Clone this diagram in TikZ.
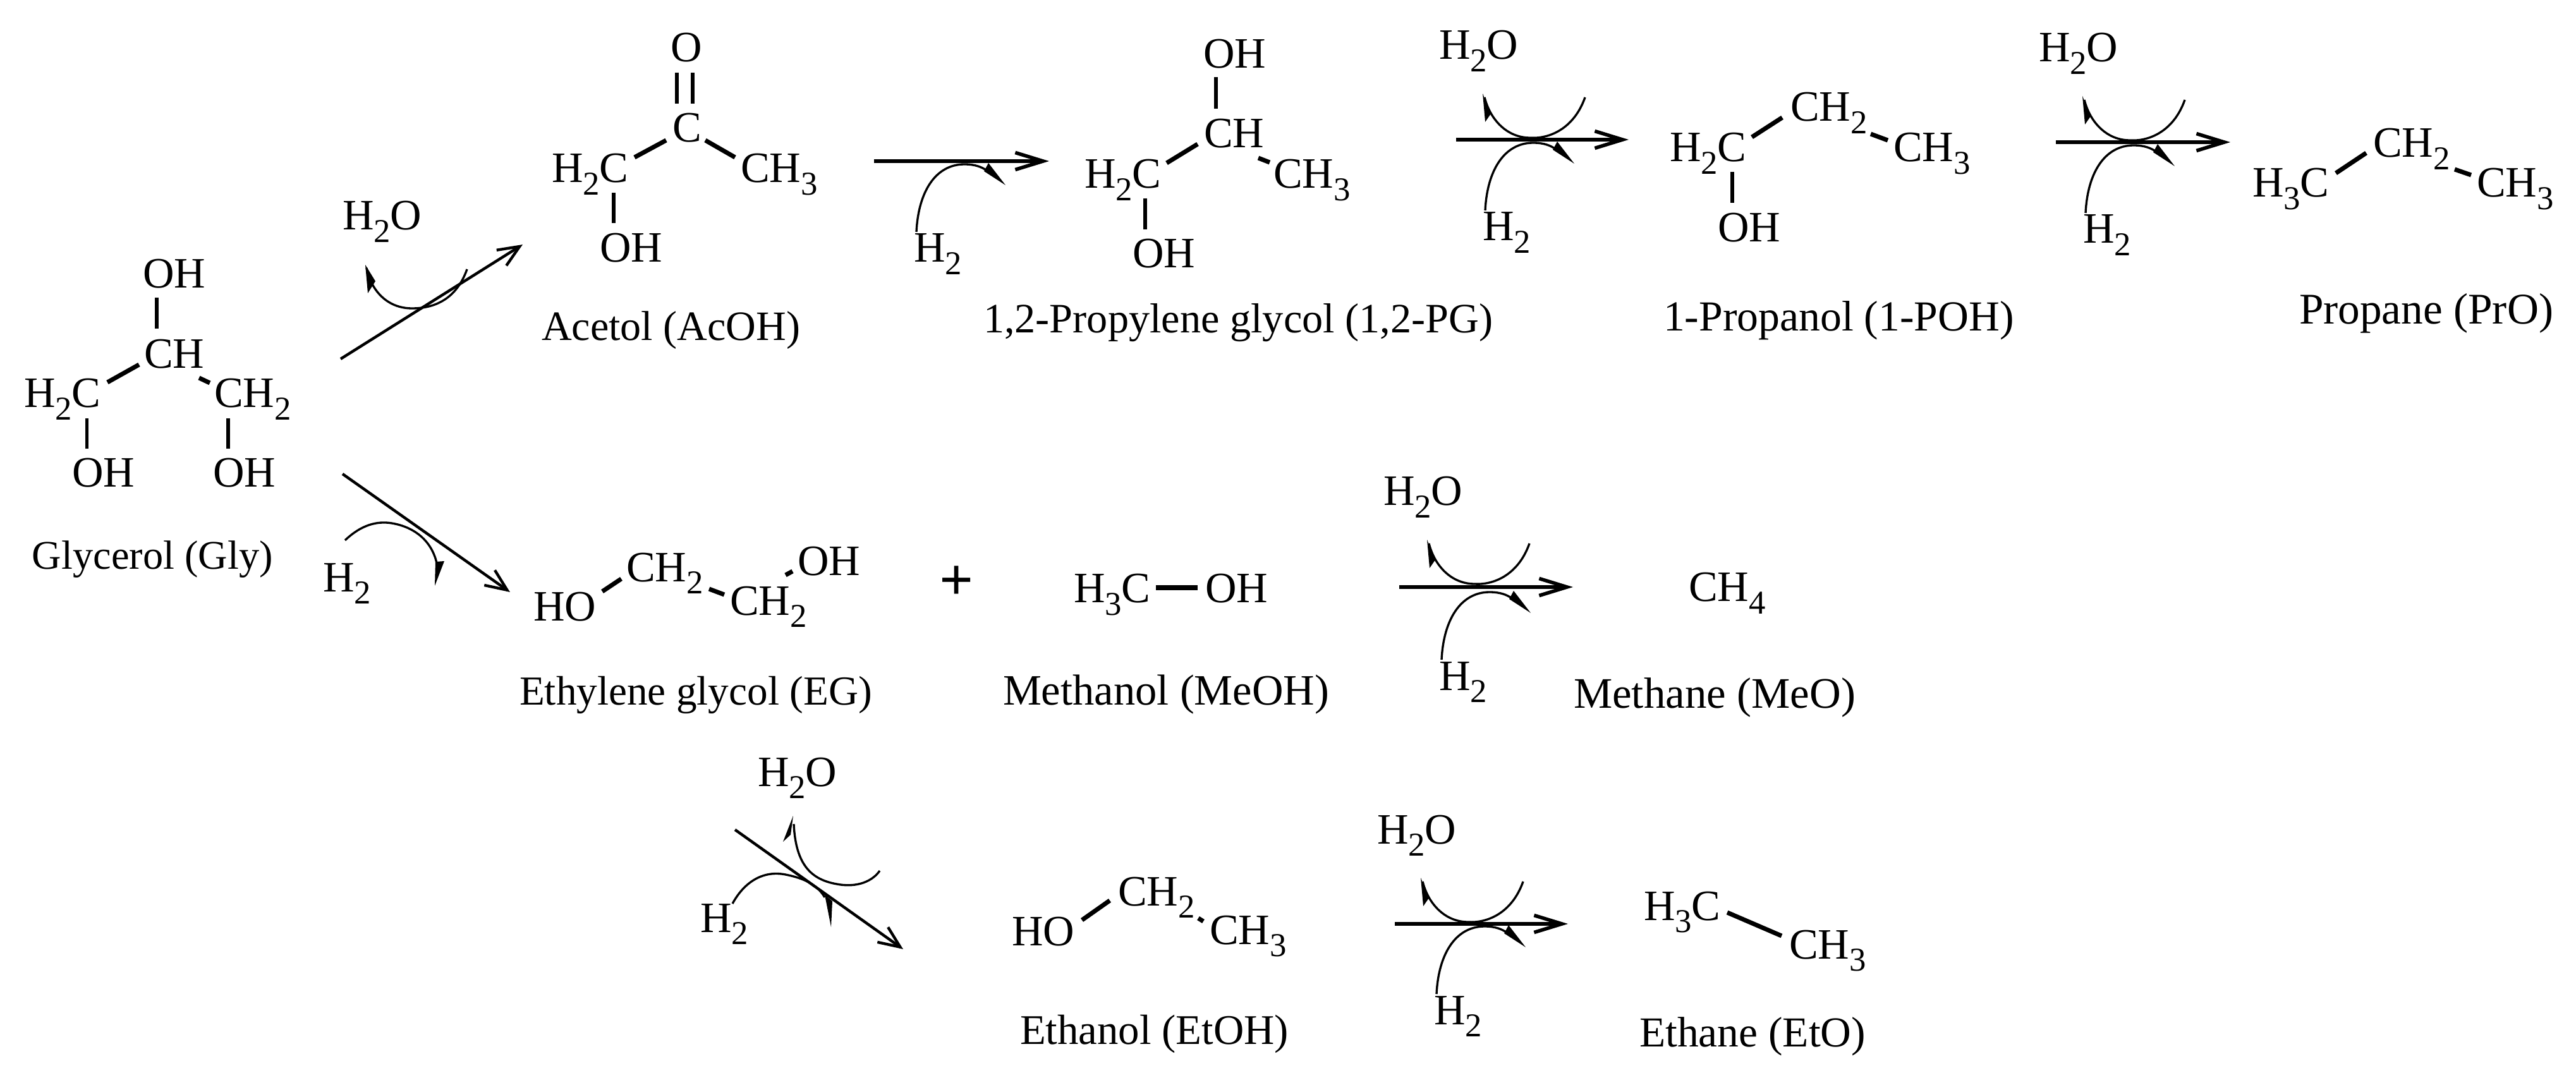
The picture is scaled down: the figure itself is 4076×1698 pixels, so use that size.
\documentclass[tikz,border=0pt]{standalone}
\usepackage{fontspec}
\setmainfont{Liberation Serif}
\usetikzlibrary{arrows.meta}
\newcommand\dn[1]{\raisebox{-5.5pt}{\fontsize{15}{15}\selectfont #1}}
\tikzset{
  chem/.style={inner sep=0pt,outer sep=0pt,anchor=base west,font=\fontsize{19.5}{21}\selectfont},
  lab/.style={inner sep=0pt,outer sep=0pt,anchor=base west,font=\fontsize{#1}{21}\selectfont},
  bond/.style={line width=1.5pt},
  shortbond/.style={line width=2pt},
  rxn/.style={line width=1.6pt,-{Straight Barb[length=4.4mm,width=2.7mm,line width=1.6pt]}},
  rxnd/.style={line width=1.25pt,-{Straight Barb[length=3.4mm,width=2.9mm,line width=1.25pt]}},
  curve/.style={line width=.95pt},
  wedge/.style={fill=black,draw=none}
}
% arc leaving towards a water label; coordinates relative to the label
\newcommand\upperarc[1]{\begin{scope}[shift={(#1.base west)}]
  \draw[curve] (231,60) .. controls (213,111) and (173,126) .. (144,124) .. controls (108,124) and (81,96) .. (72,60);
  \fill[wedge] (69,54) -- (73,99) -- (82,86) -- cycle;
\end{scope}}
% arc coming from a hydrogen label; coordinates relative to the label
\newcommand\lowerarc[1]{\begin{scope}[shift={(#1.base west)}]
  \draw[curve] (4,-48) .. controls (7,-111) and (34,-155) .. (80,-155) .. controls (98,-155) and (108,-150) .. (114,-146);
  \fill[wedge] (118,-157) -- (145,-122) -- (111,-144) -- cycle;
\end{scope}}
\begin{document}
\begin{tikzpicture}[x=0.01cm,y=-0.01cm]
\useasboundingbox (0,0) rectangle (4076,1698);
% Glycerol
\node[chem] (gOH) at (226,456) {OH};
\node[chem] (gCH) at (228,583) {CH};
\node[chem] (gHC) at (38,645) {H\dn{2}C};
\node[chem] (gCH2) at (339,645) {CH\dn{2}};
\node[chem] (gOHa) at (114,771) {OH};
\node[chem] (gOHb) at (337,771) {OH};
\node[lab=18.3] (gLab) at (51,901) {Glycerol (Gly)};
\draw[bond] ([shift={(22,15)}]gOH.base west) -- ([shift={(20,-63)}]gCH.base west);
\draw[shortbond] ([shift={(132,-40)}]gHC.base west) -- ([shift={(-8,-6)}]gCH.base west);
\draw[shortbond] ([shift={(87,15)}]gCH.base west) -- ([shift={(-7,-39)}]gCH2.base west);
\draw[bond] ([shift={(99.5,17)}]gHC.base west) -- ([shift={(23.5,-61)}]gOHa.base west);
\draw[bond] ([shift={(22,17)}]gCH2.base west) -- ([shift={(24,-61)}]gOHb.base west);
% Acetol
\node[chem] (aO) at (1061,98) {O};
\node[chem] (aC) at (1064,225) {C};
\node[chem] (aHC) at (873,289) {H\dn{2}C};
\node[chem] (aCH3) at (1172,289) {CH\dn{3}};
\node[chem] (aOH) at (949,415) {OH};
\node[lab=18.8] (aLab) at (857,539) {Acetol (AcOH)};
\draw[bond] ([shift={(10,17)}]aO.base west) -- ([shift={(7,-61)}]aC.base west);
\draw[bond] ([shift={(35,17)}]aO.base west) -- ([shift={(32,-61)}]aC.base west);
\draw[shortbond] ([shift={(131,-40)}]aHC.base west) -- ([shift={(-10,-3)}]aC.base west);
\draw[shortbond] ([shift={(52,-3)}]aC.base west) -- ([shift={(-9,-40)}]aCH3.base west);
\draw[bond] ([shift={(98,16)}]aHC.base west) -- ([shift={(22,-62)}]aOH.base west);
% 1,2-Propylene glycol
\node[chem] (pOH) at (1904,108) {OH};
\node[chem] (pCH) at (1905,234) {CH};
\node[chem] (pHC) at (1716,298) {H\dn{2}C};
\node[chem] (pCH3) at (2015,298) {CH\dn{3}};
\node[chem] (pOHb) at (1792,424) {OH};
\node[lab=18.85] (pLab) at (1556,527) {1,2-Propylene glycol (1,2-PG)};
\draw[bond] ([shift={(20,14)}]pOH.base west) -- ([shift={(19,-62)}]pCH.base west);
\draw[shortbond] ([shift={(130,-40)}]pHC.base west) -- ([shift={(-10,-6)}]pCH.base west);
\draw[shortbond] ([shift={(86,16)}]pCH.base west) -- ([shift={(-6,-41)}]pCH3.base west);
\draw[bond] ([shift={(96,16)}]pHC.base west) -- ([shift={(20,-61)}]pOHb.base west);
% 1-Propanol
\node[chem] (oHC) at (2642,256) {H\dn{2}C};
\node[chem] (oCH2) at (2833,192) {CH\dn{2}};
\node[chem] (oCH3) at (2996,256) {CH\dn{3}};
\node[chem] (oOH) at (2718,383) {OH};
\node[lab=19.25] (oLab) at (2632,524) {1-Propanol (1-POH)};
\draw[shortbond] ([shift={(130,-39)}]oHC.base west) -- ([shift={(-13,-6)}]oCH2.base west);
\draw[shortbond] ([shift={(127,20)}]oCH2.base west) -- ([shift={(-9,-34)}]oCH3.base west);
\draw[bond] ([shift={(99,16)}]oHC.base west) -- ([shift={(23,-62)}]oOH.base west);
% Propane
\node[chem] (rHC) at (3564,312) {H\dn{3}C};
\node[chem] (rCH2) at (3755,249) {CH\dn{2}};
\node[chem] (rCH3) at (3919,312) {CH\dn{3}};
\node[lab=19.7] (rLab) at (3638,513) {Propane (PrO)};
\draw[shortbond] ([shift={(132,-38)}]rHC.base west) -- ([shift={(-11,-7)}]rCH2.base west);
\draw[shortbond] ([shift={(129,19)}]rCH2.base west) -- ([shift={(-9,-35)}]rCH3.base west);
% Ethylene glycol
\node[chem] (eHO) at (844,982) {HO};
\node[chem] (eCHa) at (991,920) {CH\dn{2}};
\node[chem] (eCHb) at (1155,973) {CH\dn{2}};
\node[chem] (eOH) at (1262,910) {OH};
\node[lab=18.55] (eLab) at (822,1115) {Ethylene glycol (EG)};
\draw[shortbond] ([shift={(109,-46)}]eHO.base west) -- ([shift={(-8,-4)}]eCHa.base west);
\draw[shortbond] ([shift={(131,12)}]eCHa.base west) -- ([shift={(-9,-32)}]eCHb.base west);
\draw[shortbond] ([shift={(88,-63)}]eCHb.base west) -- ([shift={(-8,-6)}]eOH.base west);
% plus, Methanol, Methane
\node[inner sep=0pt,font=\fontsize{27}{27}\selectfont\bfseries] (plus) at (1514,923) {+};
\node[chem] (mHC) at (1699,954) {H\dn{3}C};
\node[chem] (mOH) at (1907,954) {OH};
\node[lab=19.5] (mLab) at (1587,1115) {Methanol (MeOH)};
\draw[shortbond] ([shift={(130,-24)}]mHC.base west) -- ([shift={(-12,-24)}]mOH.base west);
\node[chem] (cCH) at (2672,952) {CH\dn{4}};
\node[lab=19.6] (cLab) at (2490,1120) {Methane (MeO)};
% Ethanol
\node[chem] (tHO) at (1601,1496) {HO};
\node[chem] (tCH2) at (1769,1433) {CH\dn{2}};
\node[chem] (tCH3) at (1914,1494) {CH\dn{3}};
\node[lab=19] (tLab) at (1614,1652) {Ethanol (EtOH)};
\draw[shortbond] ([shift={(111,-40)}]tHO.base west) -- ([shift={(-13,-8)}]tCH2.base west);
\draw[shortbond] ([shift={(127,20)}]tCH2.base west) -- ([shift={(-10,-36)}]tCH3.base west);
% Ethane
\node[chem] (uHC) at (2601,1456) {H\dn{3}C};
\node[chem] (uCH3) at (2831,1517) {CH\dn{3}};
\node[lab=19.2] (uLab) at (2594,1656) {Ethane (EtO)};
\draw[shortbond] ([shift={(132,-12)}]uHC.base west) -- ([shift={(-12,-36)}]uCH3.base west);
% Water and hydrogen labels
\node[chem] (w1) at (542,364) {H\dn{2}O};
\node[chem] (w2) at (2277,94) {H\dn{2}O};
\node[chem] (w3) at (3226,98) {H\dn{2}O};
\node[chem] (w4) at (2189,800) {H\dn{2}O};
\node[chem] (w5) at (1199,1244) {H\dn{2}O};
\node[chem] (w6) at (2179,1335) {H\dn{2}O};
\node[chem] (h1) at (511,936) {H\dn{2}};
\node[chem] (h2) at (1446,415) {H\dn{2}};
\node[chem] (h3) at (2346,381) {H\dn{2}};
\node[chem] (h4) at (3296,385) {H\dn{2}};
\node[chem] (h5) at (2277,1092) {H\dn{2}};
\node[chem] (h6) at (1108,1475) {H\dn{2}};
\node[chem] (h7) at (2269,1621) {H\dn{2}};
% Reaction arrows
\draw[rxnd] ([shift={(200,-77)}]gCH2.base west) -- ([shift={(-46,98)}]aHC.base west);
\draw[rxnd] ([shift={(205,-21)}]gOHb.base west) -- ([shift={(-37,-45)}]eHO.base west);
\draw[rxn] ([shift={(211,-34)}]aCH3.base west) -- ([shift={(-56,-43)}]pHC.base west);
\draw[rxn] ([shift={(289,-77)}]pCH3.base west) -- ([shift={(-65,-35)}]oHC.base west);
\draw[rxn] ([shift={(257,-31)}]oCH3.base west) -- ([shift={(-35,-87)}]rHC.base west);
\draw[rxn] ([shift={(307,-25)}]mOH.base west) -- ([shift={(-183,-23)}]cCH.base west);
\draw[rxnd] ([shift={(341,198)}]eLab.base west) -- ([shift={(-172,6)}]tHO.base west);
\draw[rxn] ([shift={(293,-32)}]tCH3.base west) -- ([shift={(-120,6)}]uHC.base west);
% Curved side arrows
\upperarc{w2}\upperarc{w3}\upperarc{w4}\upperarc{w6}
\lowerarc{h2}\lowerarc{h3}\lowerarc{h4}\lowerarc{h5}\lowerarc{h7}
\begin{scope}[shift={(w1.base west)}]
  \draw[curve] (197,62) .. controls (180,110) and (145,124) .. (110,124) .. controls (70,124) and (45,95) .. (38,60);
  \fill[wedge] (36,55) -- (40,100) -- (52,81) -- cycle;
\end{scope}
\begin{scope}[shift={(h1.base west)}]
  \draw[curve] (35,-81) .. controls (60,-105) and (85,-112) .. (109,-108) .. controls (145,-102) and (172,-80) .. (180,-45);
  \fill[wedge] (192,-48) -- (177,-9) -- (178,-47) -- cycle;
\end{scope}
\begin{scope}[shift={(w5.base west)}]
  \draw[curve] (193,134) .. controls (178,155) and (150,160) .. (125,155) .. controls (85,148) and (60,125) .. (57,60);
  \fill[wedge] (56,47) -- (40,88) -- (52,77) -- cycle;
\end{scope}
\begin{scope}[shift={(h6.base west)}]
  \draw[curve] (51,-45) .. controls (70,-80) and (100,-98) .. (135,-91) .. controls (165,-85) and (185,-75) .. (197,-55);
  \fill[wedge] (197,-59) -- (207,-8) -- (209,-49) -- cycle;
\end{scope}
\end{tikzpicture}
\end{document}
